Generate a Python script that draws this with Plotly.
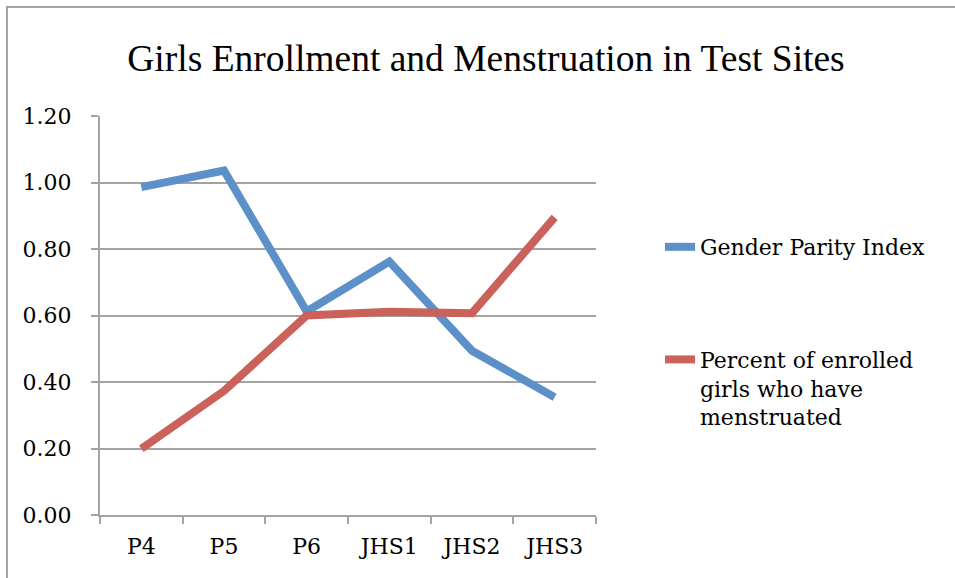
import plotly.graph_objects as go

categories = ["P4", "P5", "P6", "JHS1", "JHS2", "JHS3"]
gender_parity = [0.986, 1.036, 0.612, 0.762, 0.494, 0.354]
menstruated = [0.199, 0.373, 0.600, 0.611, 0.607, 0.895]
series_names = ["Gender Parity Index", "Percent of enrolled<br>girls who have<br>menstruated"]
y_ticks = [0, 0.2, 0.4, 0.6, 0.8, 1.0, 1.2]
y_tick_text = ["0.00", "0.20", "0.40", "0.60", "0.80", "1.00", "1.20"]

BLUE = "#5B90C8"
RED = "#CA615A"
GRID = "#A3A3A3"
TITLE_FONT = "Liberation Serif"
BODY_FONT = "DejaVu Serif"

fig = go.Figure()
fig.add_trace(go.Scatter(x=categories, y=gender_parity, mode="lines", name=series_names[0],
                         legendgroup="a", line=dict(color=BLUE, width=8)))
fig.add_trace(go.Scatter(x=categories, y=menstruated, mode="lines", name=series_names[1],
                         legendgroup="b", line=dict(color=RED, width=8)))

fig.update_layout(
    width=955, height=578,
    margin=dict(l=100, r=359, t=116, b=63),
    paper_bgcolor="white", plot_bgcolor="white",
    title=dict(text="Girls Enrollment and Menstruation in Test Sites",
               x=486 / 955, xanchor="center", y=1 - 58 / 578, yanchor="middle",
               font=dict(family=TITLE_FONT, size=37.5, color="black")),
    font=dict(family=BODY_FONT, size=22, color="black"),
    legend=dict(x=(660 - 100) / 496, xanchor="left", y=(515 - 226) / 399, yanchor="top",
                font=dict(family=BODY_FONT, size=22, color="black"),
                traceorder="grouped", tracegroupgap=81, valign="top",
                bgcolor="rgba(0,0,0,0)"),
    xaxis=dict(type="category", range=[-0.5, 5.5], tickson="boundaries",
               showline=True, linecolor=GRID, linewidth=2,
               ticks="outside", ticklen=7, tickcolor=GRID, tickwidth=2,
               showgrid=False, tickfont=dict(family=BODY_FONT, size=22),
               ticklabelstandoff=11),
    yaxis=dict(range=[0, 1.2], tickvals=y_ticks, ticktext=y_tick_text,
               showline=True, linecolor=GRID, linewidth=2,
               ticks="outside", ticklen=7, tickcolor=GRID, tickwidth=2,
               showgrid=True, gridcolor=GRID, gridwidth=2, zeroline=False,
               tickfont=dict(family=BODY_FONT, size=22), ticklabelstandoff=15),
    shapes=[dict(type="rect", xref="paper", yref="paper",
                 x0=-93 / 496, x1=3, y0=-2, y1=(515 - 7) / 399,
                 line=dict(color=GRID, width=2), layer="below")],
)

fig.write_html("out.html", config={"displayModeBar": False},
               post_script="document.body.style.margin='0';")
